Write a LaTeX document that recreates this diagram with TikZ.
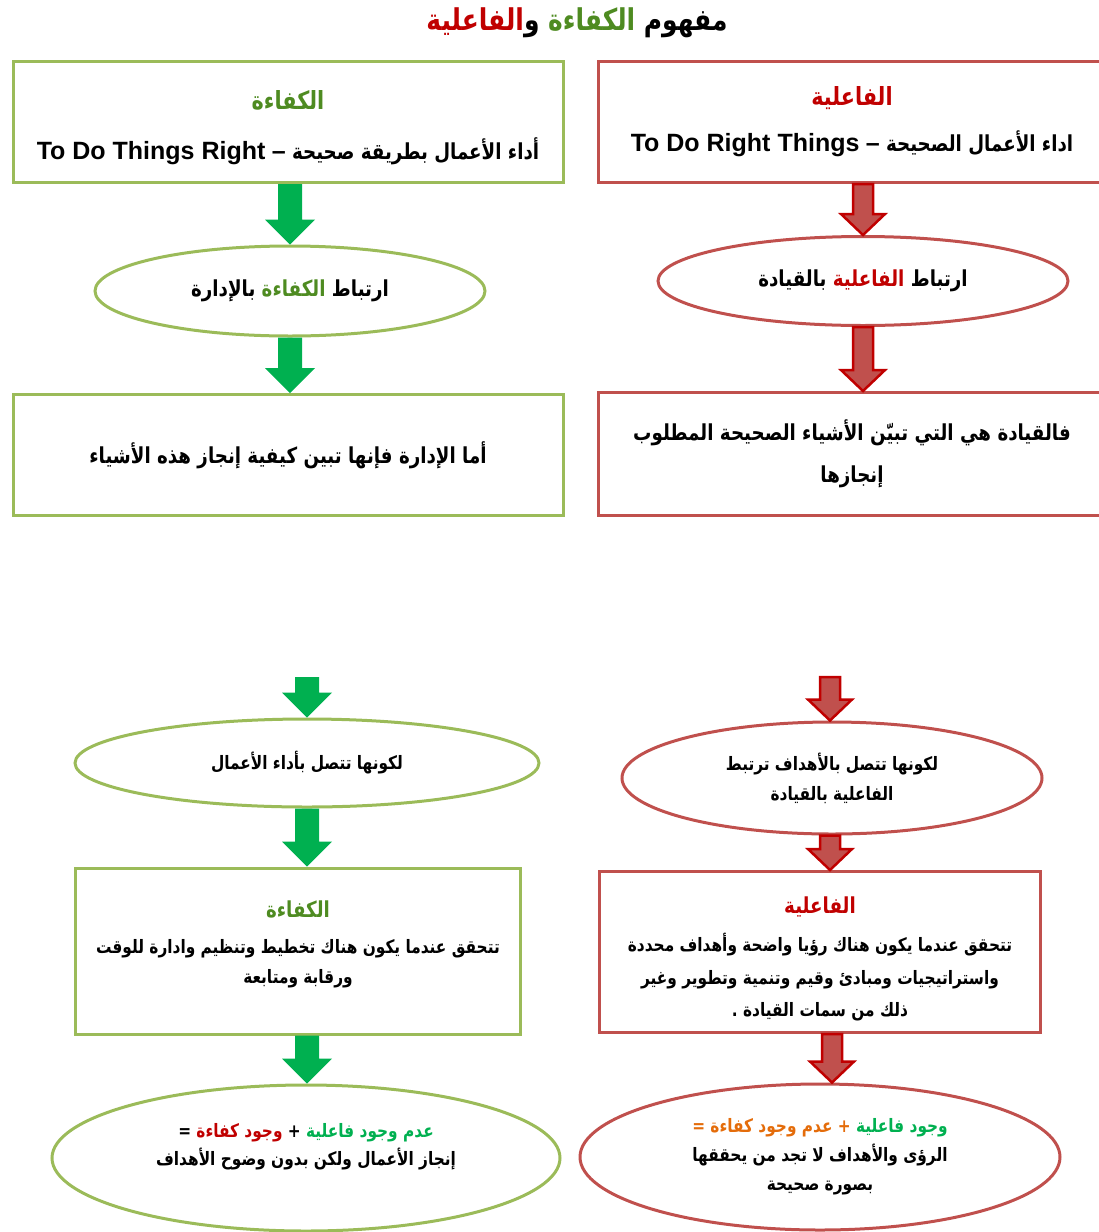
\documentclass[tikz,border=0pt]{standalone}
\usepackage{fontspec}
\setmainfont{Liberation Sans}
\newfontfamily\arabicfont[Script=Arabic,FakeStretch=0.83]{DejaVu Sans}
\newfontfamily\kfont[Script=Arabic,FakeStretch=0.83,Color=4E8B21]{DejaVu Sans}
\newfontfamily\gfont[Script=Arabic,FakeStretch=0.83,Color=00B050]{DejaVu Sans}
\newfontfamily\ffont[Script=Arabic,FakeStretch=0.83,Color=C00000]{DejaVu Sans}
\newfontfamily\ofont[Script=Arabic,FakeStretch=0.83,Color=E46C0A]{DejaVu Sans}
\TeXXeTstate=1
\usetikzlibrary{shapes.geometric,calc}

\definecolor{kline}{RGB}{155,187,89}
\definecolor{fline}{RGB}{192,80,77}
\definecolor{karrow}{RGB}{0,176,80}
\definecolor{fdark}{RGB}{192,0,0}

\begin{document}
\begin{tikzpicture}[x=1pt,y=-1pt,
    txt/.style={font=\arabicfont\bfseries\fontsize{22}{28}\selectfont,align=center},
    small/.style={font=\arabicfont\bfseries\fontsize{18.5}{30}\selectfont,align=center},
    kbox/.style={draw=kline,line width=3pt,rectangle,inner sep=0pt},
    fbox/.style={draw=fline,line width=3pt,rectangle,inner sep=0pt},
    kell/.style={draw=kline,line width=3pt,ellipse,inner sep=0pt},
    fell/.style={draw=fline,line width=3pt,ellipse,inner sep=0pt},
    karr/.style={fill=karrow,draw=none,to path={let \p1=(\tikztostart),\p2=(\tikztotarget) in
        (\x1-12pt,\y1) -- (\x1-12pt,\y2+25pt) -- (\x1-25pt,\y2+25pt) -- (\x1,\y2)
        -- (\x1+25pt,\y2+25pt) -- (\x1+12pt,\y2+25pt) -- (\x1+12pt,\y1) -- cycle}},
    farr/.style={fill=fline,draw=fdark,line width=2.5pt,line join=miter,to path={let \p1=(\tikztostart),\p2=(\tikztotarget) in
        (\x1-10pt,\y1) -- (\x1-10pt,\y2+21pt) -- (\x1-22pt,\y2+21pt) -- (\x1,\y2)
        -- (\x1+22pt,\y2+21pt) -- (\x1+10pt,\y2+21pt) -- (\x1+10pt,\y1) -- cycle}}]
    \useasboundingbox (0,0) rectangle (1099,1232);
    \clip (0,0) rectangle (1099,1232);

    % title
    \node[font=\arabicfont\bfseries\fontsize{30}{36}\selectfont] (title) at (577,23)
        {\beginR مفهوم {\kfont الكفاءة} و{\ffont الفاعلية}\endR};

    % upper part, left: efficiency
    \node[kbox,minimum width=550,minimum height=121] (k1) at (288,122) {};
    \node[txt] (k1t) at (288,128)
        {\beginR{\kfont\fontsize{25}{28}\selectfont الكفاءة}\endR\\[22pt]
         \beginR أداء الأعمال بطريقة صحيحة {\normalfont\bfseries\fontsize{25}{28}\selectfont –} \beginL{\normalfont\bfseries\fontsize{25}{28}\selectfont To Do Things Right}\endL\endR};
    \node[kell,txt,minimum width=390,minimum height=90] (k2) at (290,291)
        {\beginR ارتباط {\kfont الكفاءة} بالإدارة\endR};
    \node[kbox,txt,minimum width=550,minimum height=121] (k3) at (288,455)
        {\beginR أما الإدارة فإنها تبين كيفية إنجاز هذه الأشياء\endR};

    % upper part, right: effectiveness
    \node[fbox,txt,minimum width=508,minimum height=121] (f1) at (852,122)
        {\beginR{\ffont\fontsize{25}{28}\selectfont الفاعلية}\endR\\[18pt]
         \beginR اداء الأعمال الصحيحة {\normalfont\bfseries\fontsize{25}{28}\selectfont –} \beginL{\normalfont\bfseries\fontsize{25}{28}\selectfont To Do Right Things}\endL\endR};
    \node[fell,txt,minimum width=410,minimum height=89] (f2) at (863,281)
        {\beginR ارتباط {\ffont الفاعلية} بالقيادة\endR};
    \node[fbox,txt,minimum width=508,minimum height=123] (f3) at (852,454)
        {\beginR فالقيادة هي التي تبيّن الأشياء الصحيحة المطلوب\endR\\[14pt]
         \beginR إنجازها\endR};

    \draw[karr] (k1.south -| k2.north) to (k2.north);
    \draw[karr] (k2.south) to (k3.north -| k2.south);
    \draw[farr] (f1.south -| f2.north) to (f2.north);
    \draw[farr] (f2.south) to (f3.north -| f2.south);

    % lower part, left
    \coordinate (ka) at (307,677);
    \node[kell,small,minimum width=464,minimum height=88] (k4) at (307,763)
        {\beginR لكونها تتصل بأداء الأعمال\endR};
    \node[kbox,minimum width=445,minimum height=166] (k5) at (298,951) {};
    \node[small] (k5t) at (298,944)
        {\beginR{\kfont\fontsize{22}{30}\selectfont الكفاءة}\endR\\[6pt]
         \beginR تتحقق عندما يكون هناك تخطيط وتنظيم وادارة للوقت\endR\\
         \beginR ورقابة ومتابعة\endR};
    \node[kell,minimum width=508,minimum height=146] (k6) at (306,1158) {};
    \node[small,font=\arabicfont\bfseries\fontsize{18.5}{28}\selectfont] (k6t) at (306,1147)
        {\beginR{\gfont عدم وجود فاعلية} + {\ffont وجود كفاءة} =\endR\\
         \beginR إنجاز الأعمال ولكن بدون وضوح الأهداف\endR};

    \draw[karr] (ka) to (k4.north);
    \draw[karr] (k4.south) to (k5.north -| k4.south);
    \draw[karr] (k4.south |- k5.south) to (k6.north -| k4.south);

    % lower part, right
    \coordinate (fa) at (830,677);
    \node[fell,small,minimum width=420,minimum height=112] (f4) at (832,778)
        {\beginR لكونها تتصل بالأهداف ترتبط\endR\\
         \beginR الفاعلية بالقيادة\endR};
    \node[fbox,minimum width=441,minimum height=161] (f5) at (820,952) {};
    \node[small,font=\arabicfont\bfseries\fontsize{18.5}{32.5}\selectfont] (f5t) at (820,959)
        {\beginR{\ffont\fontsize{22}{30}\selectfont الفاعلية}\endR\\[6pt]
         \beginR تتحقق عندما يكون هناك رؤيا واضحة وأهداف محددة\endR\\
         \beginR واستراتيجيات ومبادئ وقيم وتنمية وتطوير وغير\endR\\
         \beginR ذلك من سمات القيادة .\endR};
    \node[fell,small,font=\arabicfont\bfseries\fontsize{18.5}{29}\selectfont,minimum width=480,minimum height=146] (f6) at (820,1157)
        {\beginR{\gfont وجود فاعلية} {\ofont + عدم وجود كفاءة =}\endR\\
         \beginR الرؤى والأهداف لا تجد من يحققها\endR\\
         \beginR بصورة صحيحة\endR};

    \draw[farr] (fa) to (f4.north -| fa);
    \draw[farr] (f4.south -| fa) to (f5.north -| fa);
    \draw[farr] (f4.south |- f5.south) to (f6.north -| f4.south);
\end{tikzpicture}
\end{document}
